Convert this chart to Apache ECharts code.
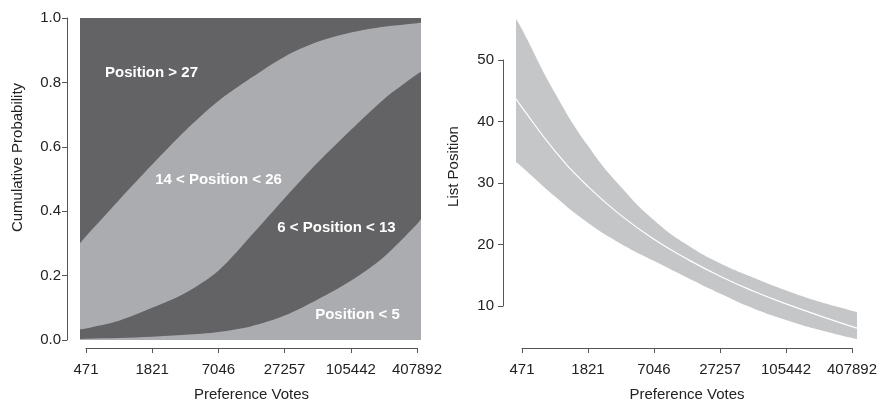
<!DOCTYPE html>
<html>
<head>
<meta charset="utf-8">
<script src="https://cdn.jsdelivr.net/npm/echarts@6/dist/echarts.min.js"></script>
<style>
  html, body { margin: 0; padding: 0; background: #fff; }
  #chart { width: 880px; height: 407px; }
</style>
</head>
<body>
<div id="chart"></div>
<script>
// x positions are in "tick steps" on the log vote scale (0 = 471 votes, 5 = 407892 votes)
const voteTicks = ["471", "1821", "7046", "27257", "105442", "407892"];
const xPos = [-0.09, 0, 0.5, 1, 1.5, 2, 2.5, 3, 3.5, 4, 4.5, 5, 5.06];

// left panel: cumulative probabilities (upper edge of each band)
const pBelow5 = [0.003, 0.004, 0.006, 0.010, 0.016, 0.025, 0.043, 0.076, 0.126, 0.184, 0.258, 0.360, 0.376];
const pBelow13 = [0.033, 0.036, 0.060, 0.100, 0.146, 0.215, 0.325, 0.440, 0.551, 0.652, 0.748, 0.825, 0.833];
const pBelow26 = [0.300, 0.322, 0.435, 0.545, 0.650, 0.742, 0.815, 0.880, 0.926, 0.955, 0.973, 0.984, 0.985];
const bandLabels = ["Position > 27", "14 < Position < 26", "6 < Position < 13", "Position < 5"];

// right panel: predicted list position with interval
const fitPos = [43.7, 42.3, 35.2, 29.4, 24.7, 20.8, 17.6, 14.8, 12.4, 10.3, 8.4, 6.6, 6.4];
const hiPos = [56.7, 55.0, 44.6, 36.0, 29.3, 23.9, 19.9, 16.9, 14.6, 12.5, 10.7, 9.2, 9.0];
const loPos = [33.4, 32.6, 27.8, 23.5, 20.1, 17.3, 14.6, 12.0, 9.6, 7.7, 6.1, 4.75, 4.6];

const DARK = "#636366";
const LIGHT = "#abacaf";
const BAND = "#c5c6c8";
const AXIS = "#555";
const FONT = "'Liberation Sans', Arial, sans-serif";

const pts = (arr) => xPos.map((x, i) => [x, arr[i]]);

const axisLabel = { color: "#222", fontSize: 15, fontFamily: FONT };
// rotated axis names sit a bit above the axis middle in the original
const yName = (shift) => ({ color: "#222", fontSize: 15, fontFamily: FONT, padding: [0, 0, 0, shift] });
const xNameStyle = { color: "#222", fontSize: 15, fontFamily: FONT };

const hidden = (grid, min, max) => ({
  type: "value", gridIndex: grid, min: min, max: max, show: false,
  axisLine: { onZero: false },
});

const voteAxis = (grid) => ({
  type: "value",
  gridIndex: grid,
  min: 0,
  max: 5,
  interval: 1,
  name: "Preference Votes",
  nameLocation: "middle",
  nameGap: 39,
  nameTextStyle: xNameStyle,
  axisLine: { show: true, onZero: false, lineStyle: { color: AXIS, width: 1 } },
  axisTick: { show: true, length: 5, lineStyle: { color: AXIS } },
  axisLabel: Object.assign({ margin: 14, formatter: (v) => voteTicks[Math.round(v)] || "" }, axisLabel),
  splitLine: { show: false },
});

const areaSeries = (xi, data, color, smooth) => ({
  type: "line",
  xAxisIndex: xi,
  yAxisIndex: xi,
  data: pts(data),
  smooth: smooth,
  symbol: "none",
  lineStyle: { width: 0, opacity: 0 },
  areaStyle: { color: color, opacity: 1 },
  silent: true,
});

const chart = echarts.init(document.getElementById("chart"), null, { renderer: "canvas" });

chart.setOption({
  animation: false,
  backgroundColor: "#fff",
  grid: [
    // 0: left data area (background = top band)
    { left: 80, top: 18, width: 341, height: 322, show: true, backgroundColor: DARK, borderWidth: 0 },
    // 1: left x axis
    { left: 86, top: 18, width: 331, height: 335 },
    // 2: right data area
    { left: 516, top: 10.8, width: 341, height: 332.1 },
    // 3: right x axis
    { left: 522, top: 60, width: 331, height: 294 },
    // 4: right y axis
    { left: 503, top: 60, width: 350, height: 246 },
  ],
  xAxis: [
    hidden(0, -0.09, 5.06),
    voteAxis(1),
    hidden(2, -0.09, 5.06),
    voteAxis(3),
    hidden(4, 0, 1),
  ],
  yAxis: [
    {
      type: "value",
      gridIndex: 0,
      min: 0,
      max: 1,
      interval: 0.2,
      offset: 13,
      name: "Cumulative Probability",
      nameLocation: "middle",
      nameGap: 42,
      nameTextStyle: yName(43),
      axisLine: { show: true, onZero: false, lineStyle: { color: AXIS, width: 1 } },
      axisTick: { show: true, length: 5, lineStyle: { color: AXIS } },
      axisLabel: Object.assign({ margin: 6, formatter: (v) => v.toFixed(1) }, axisLabel),
      splitLine: { show: false },
    },
    hidden(1, 0, 1),
    hidden(2, 4, 58),
    hidden(3, 0, 1),
    {
      type: "value",
      gridIndex: 4,
      min: 10,
      max: 50,
      interval: 10,
      name: "List Position",
      nameLocation: "middle",
      nameGap: 42,
      nameTextStyle: yName(33),
      axisLine: { show: true, onZero: false, lineStyle: { color: AXIS, width: 1 } },
      axisTick: { show: true, length: 5, lineStyle: { color: AXIS } },
      axisLabel: Object.assign({ margin: 9 }, axisLabel),
      splitLine: { show: false },
    },
  ],
  series: [
    areaSeries(0, pBelow26, LIGHT, 0.3),
    areaSeries(0, pBelow13, DARK, 0.3),
    areaSeries(0, pBelow5, LIGHT, 0.3),
    // interval band: grey down from the upper edge, then white below the lower edge
    areaSeries(2, hiPos, BAND, 0.5),
    areaSeries(2, loPos, "#fff", 0.5),
    {
      type: "line",
      xAxisIndex: 2,
      yAxisIndex: 2,
      data: pts(fitPos),
      smooth: 0.5,
      symbol: "none",
      lineStyle: { color: "#fff", width: 1.2 },
      silent: true,
      z: 5,
    },
  ],
  graphic: [
    [151.5, 73], [218.5, 180], [336.5, 228], [357.5, 315],
  ].map((p, i) => ({
    type: "text",
    x: p[0],
    y: p[1],
    z: 10,
    style: {
      text: bandLabels[i],
      fill: "#fff",
      font: "bold 15px " + FONT,
      textAlign: "center",
      textVerticalAlign: "middle",
    },
  })),
});
</script>
</body>
</html>
